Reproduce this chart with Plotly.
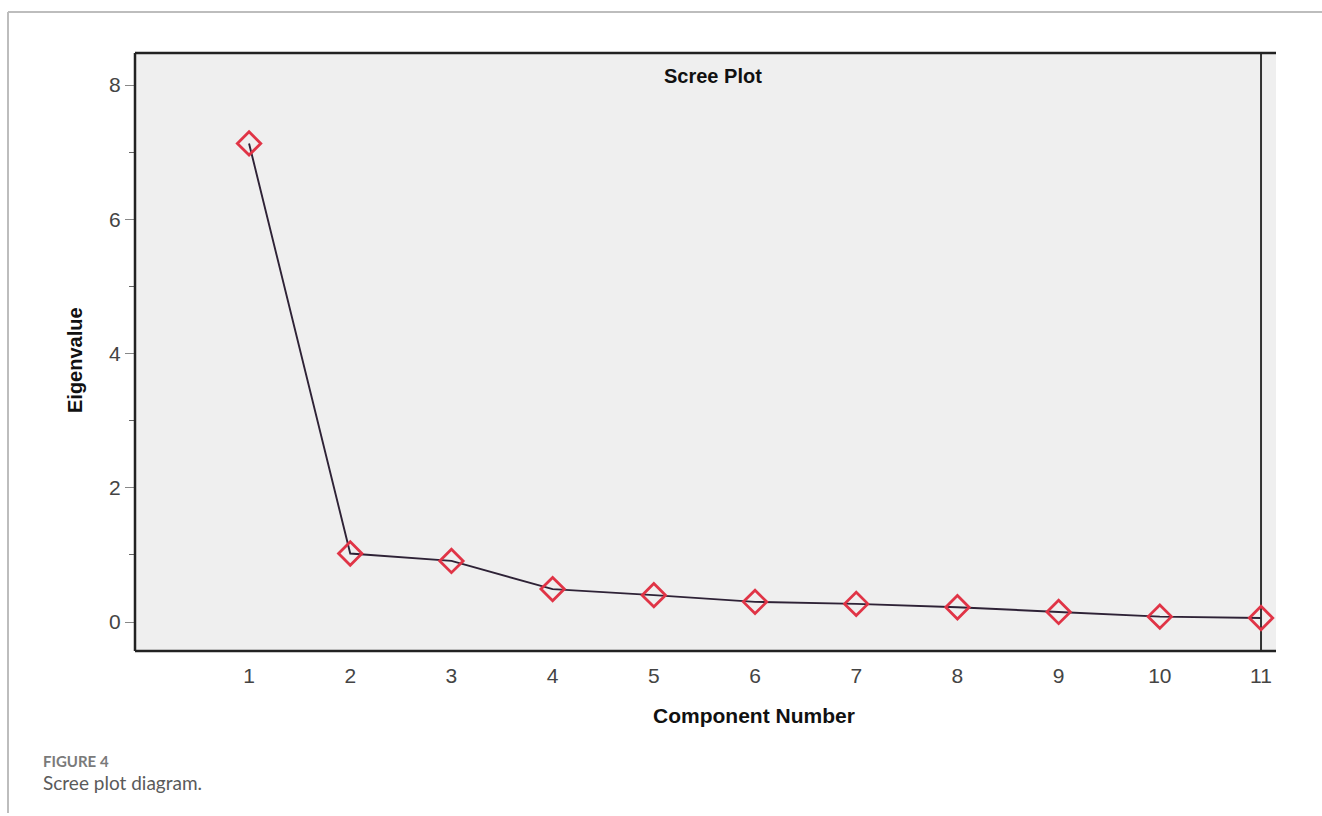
import plotly.graph_objects as go

components = [1, 2, 3, 4, 5, 6, 7, 8, 9, 10, 11]
eigenvalues = [7.13, 1.02, 0.91, 0.49, 0.40, 0.30, 0.27, 0.22, 0.15, 0.08, 0.06]
y_ticks = [0, 2, 4, 6, 8]
y_minor = [1, 3, 5, 7]
x_ticks = components

W, H = 1322, 816
L, R, T, B = 135, 1276, 53, 651

def px(x):
    return (x - L) / (R - L)

def py(y):
    return (B - y) / (B - T)

fig = go.Figure()
fig.add_trace(go.Scatter(
    x=components, y=eigenvalues, mode="lines+markers",
    line=dict(color="#2e2236", width=1.9),
    marker=dict(symbol="diamond-open", size=18, color="#e03446", line=dict(width=2.8, color="#e03446")),
    showlegend=False, cliponaxis=False,
))

font = "Liberation Sans, Arial, sans-serif"
cap_font = "Lato, Open Sans, sans-serif"

def ann(text, x, y, size, color, family=font, xanchor="center", angle=0):
    return dict(text=text, xref="paper", yref="paper", x=px(x), y=py(y),
                xanchor=xanchor, yanchor="middle", showarrow=False, textangle=angle,
                font=dict(family=family, size=size, color=color))

fig.update_layout(
    width=W, height=H,
    margin=dict(l=L, r=W - R, t=T, b=H - B),
    paper_bgcolor="white", plot_bgcolor="#efefef",
    xaxis=dict(range=[-0.127, 11.148], tickvals=x_ticks, showgrid=False, zeroline=False,
               showline=False, ticks="outside", ticklen=6, tickcolor="rgba(0,0,0,0)",
               tickfont=dict(family=font, size=21, color="#444")),
    yaxis=dict(range=[-0.432, 8.477], tickvals=y_ticks, showgrid=False, zeroline=False,
               showline=False, ticks="outside", ticklen=9, tickcolor="#888", tickwidth=1,
               minor=dict(tickvals=y_minor, ticks="outside", ticklen=5, tickcolor="#666"),
               tickfont=dict(family=font, size=21, color="#444")),
    shapes=[
        # outer frame (top & left)
        dict(type="line", xref="paper", yref="paper", x0=px(8), x1=px(1322), y0=py(12), y1=py(12),
             line=dict(color="#bdbdbd", width=2)),
        dict(type="line", xref="paper", yref="paper", x0=px(8), x1=px(8), y0=py(12), y1=py(813),
             line=dict(color="#bdbdbd", width=2)),
        # plot frame
        dict(type="line", xref="paper", yref="paper", x0=0, x1=1, y0=1, y1=1,
             line=dict(color="#222", width=2.5)),
        dict(type="line", xref="paper", yref="paper", x0=0, x1=1, y0=0, y1=0,
             line=dict(color="#222", width=2.5)),
        dict(type="line", xref="paper", yref="paper", x0=0, x1=0, y0=0, y1=1,
             line=dict(color="#222", width=2.5)),
        # vertical reference line at last component
        dict(type="line", xref="x", yref="paper", x0=11, x1=11, y0=0, y1=1, layer="below",
             line=dict(color="#333", width=2)),
    ],
    annotations=[
        ann("<b>Scree Plot</b>", 713, 76, 20, "#111"),
        ann("<b>Eigenvalue</b>", 75, 360, 20, "#111", angle=-90),
        ann("<b>Component Number</b>", 754, 715, 21, "#111"),
        ann("<b>FIGURE 4</b>", 41, 761, 15, "#7a7a7a", family=cap_font, xanchor="left"),
        ann("Scree plot diagram.", 41, 782, 19, "#5a5a5a", family=cap_font, xanchor="left"),
    ],
)

fig.write_html("out.html", config={"displayModeBar": False},
               post_script="document.body.style.margin='0';document.body.style.overflow='hidden';")
